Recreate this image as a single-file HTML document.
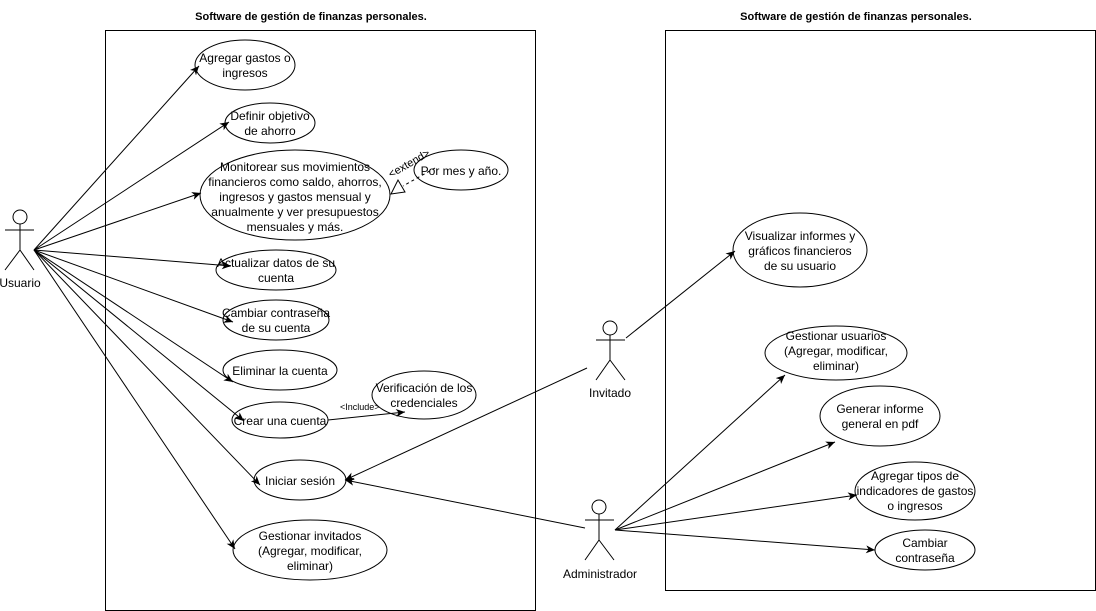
<!DOCTYPE html>
<html><head><meta charset="utf-8"><style>
html,body{margin:0;padding:0;background:#fff;}
svg{display:block;font-family:"Liberation Sans",Arial,sans-serif;}
text{font-size:12px;fill:#000;}
</style></head><body>
<svg width="1096" height="611" viewBox="0 0 1096 611" xmlns="http://www.w3.org/2000/svg">
<defs>
<marker id="a" markerWidth="10" markerHeight="10" refX="9" refY="5" orient="auto" markerUnits="userSpaceOnUse">
<path d="M0,1 L9,5 L0,9 L2.5,5 Z" fill="#000"/>
</marker>
</defs>
<g fill="none" stroke="#000" stroke-width="1">
<rect x="105.5" y="30.5" width="430" height="580"/>
<rect x="665.5" y="30.5" width="430" height="560"/>
</g>
<text x="311" y="20" text-anchor="middle" font-weight="bold" style="font-size:11px">Software de gestión de finanzas personales.</text>
<text x="856" y="20" text-anchor="middle" font-weight="bold" style="font-size:11px">Software de gestión de finanzas personales.</text>

<!-- ellipses -->
<g fill="#fff" stroke="#000" stroke-width="1">
<ellipse cx="245" cy="65" rx="50" ry="25"/>
<ellipse cx="270" cy="123" rx="45" ry="20"/>
<ellipse cx="295" cy="195" rx="95" ry="45"/>
<ellipse cx="461" cy="170" rx="47" ry="20"/>
<ellipse cx="276" cy="270" rx="60" ry="20"/>
<ellipse cx="276" cy="320" rx="53" ry="20"/>
<ellipse cx="280" cy="370" rx="57" ry="20"/>
<ellipse cx="280" cy="420" rx="48" ry="18"/>
<ellipse cx="424" cy="395" rx="52" ry="24"/>
<ellipse cx="300" cy="480" rx="46" ry="20"/>
<ellipse cx="310" cy="550" rx="77" ry="30"/>
<ellipse cx="800" cy="250" rx="67" ry="37"/>
<ellipse cx="836" cy="353" rx="71" ry="27"/>
<ellipse cx="880" cy="416" rx="60" ry="30"/>
<ellipse cx="915" cy="491" rx="60" ry="29"/>
<ellipse cx="925" cy="550" rx="50" ry="20"/>
</g>

<!-- connectors -->
<g stroke="#000" stroke-width="1" fill="none">
<line x1="34" y1="250" x2="199" y2="66" marker-end="url(#a)"/>
<line x1="34" y1="250" x2="229" y2="122" marker-end="url(#a)"/>
<line x1="34" y1="250" x2="201" y2="193" marker-end="url(#a)"/>
<line x1="34" y1="250" x2="231" y2="266" marker-end="url(#a)"/>
<line x1="34" y1="250" x2="233" y2="322" marker-end="url(#a)"/>
<line x1="34" y1="250" x2="233" y2="382" marker-end="url(#a)"/>
<line x1="34" y1="250" x2="244" y2="421" marker-end="url(#a)"/>
<line x1="34" y1="250" x2="260" y2="485" marker-end="url(#a)"/>
<line x1="34" y1="250" x2="235" y2="549" marker-end="url(#a)"/>
<line x1="328" y1="420" x2="405" y2="412" marker-end="url(#a)"/>
<line x1="587" y1="368" x2="345" y2="480" marker-end="url(#a)"/>
<line x1="585" y1="528" x2="345" y2="480" marker-end="url(#a)"/>
<line x1="626" y1="338" x2="735" y2="251" marker-end="url(#a)"/>
<line x1="615" y1="530" x2="785" y2="375" marker-end="url(#a)"/>
<line x1="615" y1="530" x2="835" y2="442" marker-end="url(#a)"/>
<line x1="615" y1="530" x2="857" y2="495" marker-end="url(#a)"/>
<line x1="615" y1="530" x2="875" y2="550" marker-end="url(#a)"/>
<line x1="435" y1="168" x2="403" y2="186" stroke-dasharray="3,3"/>
<path d="M391,194 L398,180 L405,192 Z" fill="#fff"/>
</g>
<text transform="translate(391,178) rotate(-30)" style="font-size:11px">&lt;extend&gt;</text>
<text x="340" y="410" style="font-size:9px">&lt;Include&gt;</text>

<g text-anchor="middle">
<text x="245" y="62">Agregar gastos o</text><text x="245" y="77">ingresos</text>
<text x="270" y="120">Definir objetivo</text><text x="270" y="135">de ahorro</text>
<text x="295" y="171">Monitorear sus movimientos</text>
<text x="295" y="186">financieros como saldo, ahorros,</text>
<text x="295" y="201">ingresos y gastos mensual y</text>
<text x="295" y="216">anualmente y ver presupuestos</text>
<text x="295" y="231">mensuales y más.</text>
<text x="461" y="175">Por mes y año.</text>
<text x="276" y="267">Actualizar datos de su</text><text x="276" y="282">cuenta</text>
<text x="276" y="317">Cambiar contraseña</text><text x="276" y="332">de su cuenta</text>
<text x="280" y="375">Eliminar la cuenta</text>
<text x="280" y="425">Crear una cuenta</text>
<text x="424" y="392">Verificación de los</text><text x="424" y="407">credenciales</text>
<text x="300" y="485">Iniciar sesión</text>
<text x="310" y="540">Gestionar invitados</text><text x="310" y="555">(Agregar, modificar,</text><text x="310" y="570">eliminar)</text>
<text x="800" y="240">Visualizar informes y</text><text x="800" y="255">gráficos financieros</text><text x="800" y="270">de su usuario</text>
<text x="836" y="340">Gestionar usuarios</text><text x="836" y="355">(Agregar, modificar,</text><text x="836" y="370">eliminar)</text>
<text x="880" y="413">Generar informe</text><text x="880" y="428">general en pdf</text>
<text x="915" y="480">Agregar tipos de</text><text x="915" y="495">indicadores de gastos</text><text x="915" y="510">o ingresos</text>
<text x="925" y="547">Cambiar</text><text x="925" y="562">contraseña</text>
</g>

<!-- actors -->
<g fill="#fff" stroke="#000" stroke-width="1">
<circle cx="20" cy="217" r="7"/>
<path d="M20,224 V250 M5,230 H34 M20,250 L5,270 M20,250 L34,270" fill="none"/>
<circle cx="610" cy="328" r="7"/>
<path d="M610,335 V360 M596,340 H625 M610,360 L596,380 M610,360 L625,380" fill="none"/>
<circle cx="599" cy="507" r="7"/>
<path d="M599,514 V540 M585,520 H614 M599,540 L585,560 M599,540 L614,560" fill="none"/>
</g>
<g text-anchor="middle">
<text x="20" y="287">Usuario</text>
<text x="610" y="397">Invitado</text>
<text x="600" y="578">Administrador</text>
</g>
</svg>
</body></html>
